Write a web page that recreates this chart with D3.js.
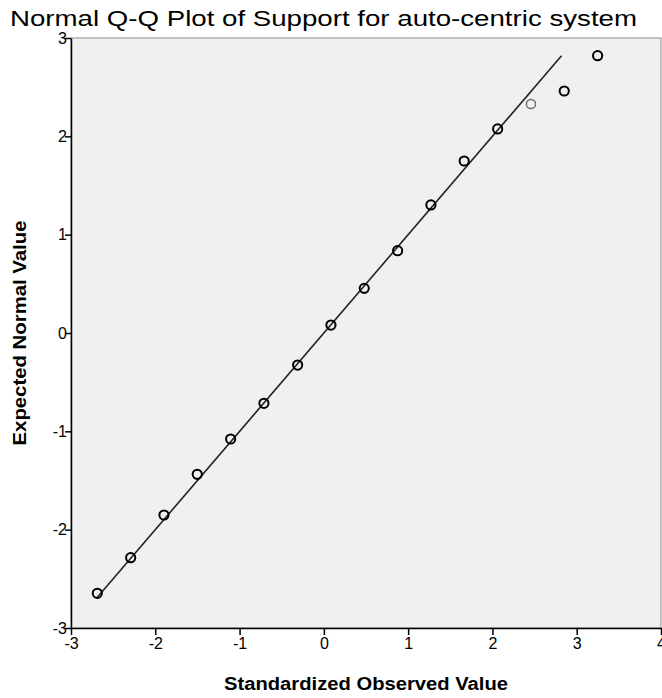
<!DOCTYPE html>
<html><head><meta charset="utf-8">
<script src="https://cdn.jsdelivr.net/npm/d3@7"></script>
<style>body{margin:0;background:#fff}svg{display:block}text{font-family:"Liberation Sans",Arial,sans-serif}</style>
</head><body>
<script>
const title = "Normal Q-Q Plot of Support for auto-centric system";
const xLabel = "Standardized Observed Value";
const yLabel = "Expected Normal Value";
const observed = [-2.688,-2.292,-1.897,-1.502,-1.106,-0.711,-0.311,0.084,0.479,0.875,1.270,1.665,2.062,2.457,2.852,3.248];
const expected = [-2.647,-2.285,-1.851,-1.437,-1.078,-0.715,-0.326,0.081,0.454,0.837,1.302,1.749,2.075,2.329,2.461,2.820];
const pointShade = ["k","k","k","k","k","k","k","k","k","k","k","k","k","g","k","k"];
const lineExtent = [-2.69, 2.82];
const xTicks = [-3,-2,-1,0,1,2,3,4];
const yTicks = [-3,-2,-1,0,1,2,3];

const W = 662, H = 698;
const m = {left:71, right:1, top:38, bottom:70};
const svg = d3.select("body").append("svg").attr("width",W).attr("height",H);
const x = d3.scaleLinear().domain([-3,4]).range([m.left, W-m.right]);
const y = d3.scaleLinear().domain([-3,3]).range([H-m.bottom, m.top]);

svg.append("rect").attr("x",x(-3)).attr("y",y(3)).attr("width",x(4)-x(-3)).attr("height",y(-3)-y(3))
  .attr("fill","#f0f0f0").attr("stroke","#8a8a8a").attr("stroke-width",1);

svg.append("line").attr("x1",x(lineExtent[0])).attr("y1",y(lineExtent[0]))
  .attr("x2",x(lineExtent[1])).attr("y2",y(lineExtent[1]))
  .attr("stroke","#222").attr("stroke-width",1.6);

svg.append("g").selectAll("circle").data(observed).join("circle")
  .attr("cx",(d)=>x(d)).attr("cy",(d,i)=>y(expected[i])).attr("r",4.6)
  .attr("fill","none")
  .attr("stroke",(d,i)=>pointShade[i]==="g"?"#707070":"#000")
  .attr("stroke-width",(d,i)=>pointShade[i]==="g"?1.5:2);

const fmt = d => d<0 ? "-"+Math.abs(d) : String(d);
const xAxis = d3.axisBottom(x).tickValues(xTicks).tickFormat(fmt).tickSize(7).tickSizeOuter(0);
const gx = svg.append("g").attr("transform",`translate(0,${y(-3)})`).call(xAxis);
gx.attr("font-size",null).attr("font-family",null);
gx.select(".domain").attr("stroke","#000").attr("stroke-width",1.5);
gx.selectAll(".tick line").attr("stroke","#000").attr("stroke-width",1.5);
gx.selectAll(".tick text").style("font-size","16px").attr("fill","#000").attr("y",9).attr("dy","0.72em");

const yAxis = d3.axisLeft(y).tickValues(yTicks).tickFormat(fmt).tickSize(6).tickSizeOuter(0);
const gy = svg.append("g").attr("transform",`translate(${x(-3)},0)`).call(yAxis);
gy.attr("font-size",null).attr("font-family",null);
gy.select(".domain").attr("stroke","#000").attr("stroke-width",1.5);
gy.selectAll(".tick line").attr("stroke","#000").attr("stroke-width",1.5);
gy.selectAll(".tick text").style("font-size","16px").attr("fill","#000").attr("x",-4);

svg.append("text").attr("x",10).attr("y",26).style("font-size","22px").attr("fill","#000")
  .attr("textLength",627).attr("lengthAdjust","spacingAndGlyphs").text(title);
svg.append("text").attr("x",(x(-3)+x(4))/2).attr("y",690).attr("text-anchor","middle")
  .style("font-size","18px").attr("font-weight","bold").attr("fill","#000")
  .attr("textLength",284).attr("lengthAdjust","spacingAndGlyphs").text(xLabel);
svg.append("text").attr("transform",`translate(26,${(y(-3)+y(3))/2}) rotate(-90)`).attr("text-anchor","middle")
  .style("font-size","18px").attr("font-weight","bold").attr("fill","#000")
  .attr("textLength",225).attr("lengthAdjust","spacingAndGlyphs").text(yLabel);
</script>
</body></html>
